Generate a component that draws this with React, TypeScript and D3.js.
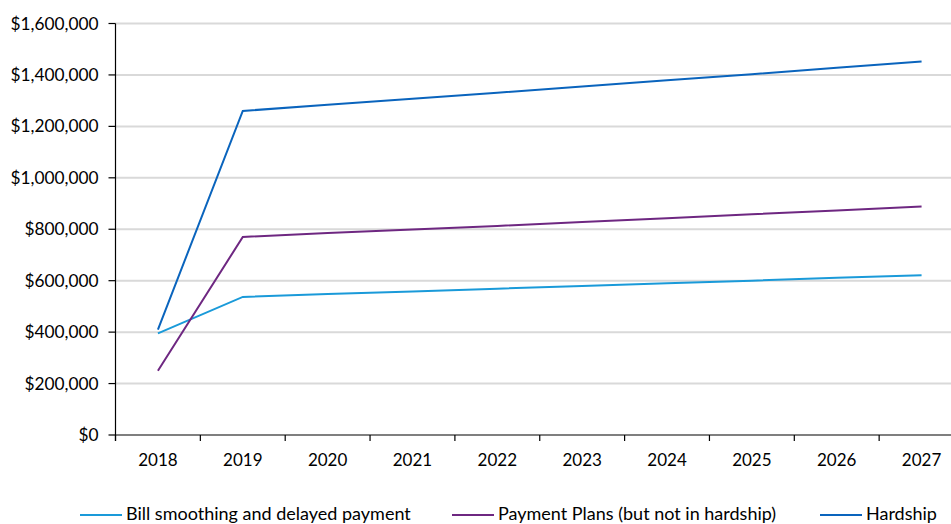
import React from "react";
import * as d3 from "d3";

const years = ["2018", "2019", "2020", "2021", "2022", "2023", "2024", "2025", "2026", "2027"];
const billSmoothing = [395000, 537000, 548000, 558000, 569000, 579000, 590000, 600000, 611000, 621000];
const paymentPlans = [250000, 770000, 785000, 799000, 813000, 828000, 843000, 858000, 873000, 888000];
const hardship = [410000, 1260000, 1284000, 1307000, 1331000, 1355000, 1379000, 1403000, 1428000, 1452000];
const yTicks = [0, 200000, 400000, 600000, 800000, 1000000, 1200000, 1400000, 1600000];

const seriesNames = ["Bill smoothing and delayed payment", "Payment Plans (but not in hardship)", "Hardship"];
const seriesColors = ["#1a9ad9", "#6e2781", "#0a64bd"];
const seriesValues = [billSmoothing, paymentPlans, hardship];

const W = 951;
const H = 524;
const left = 115.5;
const bandW = 84.85;
const top = 23.5;
const bottom = 435;

const font = "Lato, 'Open Sans', sans-serif";

export default function App() {
  const x = d3
    .scaleBand<string>()
    .domain(years)
    .range([left, left + bandW * years.length]);
  const y = d3.scaleLinear().domain([0, 1600000]).range([bottom, top]);
  const fmt = (v: number) => "$" + d3.format(",")(v);
  const line = (vals: number[]) =>
    d3
      .line<number>()
      .x((_, i) => (x(years[i]) as number) + x.bandwidth() / 2)
      .y((v) => y(v))(vals) as string;

  const legendX = [80, 452, 820];

  return (
    <svg
      width={W}
      height={H}
      style={{ position: "absolute", left: 0, top: 0, background: "#fff" }}
      fontFamily={font}
    >
      {/* gridlines */}
      {yTicks.slice(1).map((t) => (
        <line key={t} x1={left} x2={left + bandW * years.length} y1={y(t)} y2={y(t)} stroke="#d9d9d9" strokeWidth={2} />
      ))}
      {/* y axis */}
      <line x1={left} x2={left} y1={top} y2={bottom + 6} stroke="#000" strokeWidth={1.2} />
      {yTicks.map((t) => (
        <g key={t}>
          <line x1={left - 7} x2={left} y1={y(t)} y2={y(t)} stroke="#000" strokeWidth={1.2} />
          <text x={left - 17} y={y(t)} dy="0.35em" textAnchor="end" fontSize={17.3} fill="#000">
            {fmt(t)}
          </text>
        </g>
      ))}
      {/* x axis */}
      <line x1={left} x2={left + bandW * years.length} y1={bottom} y2={bottom} stroke="#000" strokeWidth={1.2} />
      {years.map((yr) => (
        <g key={yr}>
          <line x1={x(yr) as number} x2={x(yr) as number} y1={bottom} y2={bottom + 6} stroke="#000" strokeWidth={1.2} />
          <text x={(x(yr) as number) + x.bandwidth() / 2} y={466} textAnchor="middle" fontSize={17} fill="#000">
            {yr}
          </text>
        </g>
      ))}
      {/* series */}
      {seriesValues.map((vals, i) => (
        <path key={i} d={line(vals)} fill="none" stroke={seriesColors[i]} strokeWidth={2} />
      ))}
      {/* legend */}
      {seriesNames.map((name, i) => (
        <g key={name}>
          <line x1={legendX[i]} x2={legendX[i] + 42} y1={515} y2={515} stroke={seriesColors[i]} strokeWidth={2} />
          <text x={legendX[i] + 46} y={520} fontSize={18} fill="#000">
            {name}
          </text>
        </g>
      ))}
    </svg>
  );
}
